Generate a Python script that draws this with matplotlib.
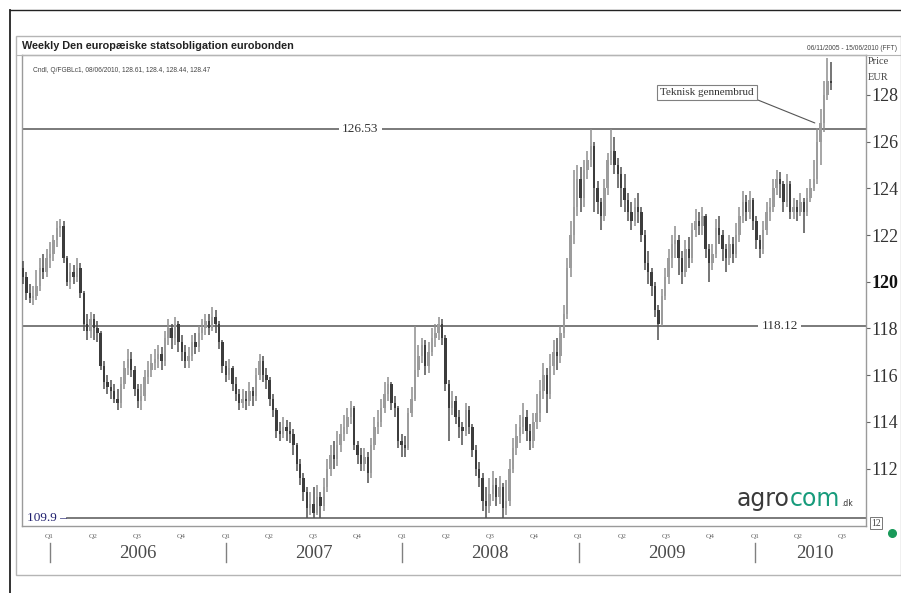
import numpy as np
import pandas as pd
import matplotlib
matplotlib.use('Agg')
import matplotlib.pyplot as plt
import matplotlib.dates as mdates
from matplotlib.lines import Line2D
from matplotlib.patches import Rectangle

# weekly candles, 06/11/2005 - 15/06/2010
opens = [
    120.6, 120.2, 119.5, 119.3, 119.4, 119.8, 120.6, 120.4,
    # 2006
    121.0, 121.2, 121.8, 122.3, 122.4, 121.0, 120.0, 120.4, 120.2, 120.6, 119.5, 118.2, 117.9, 118.4,
    118.0, 117.8, 116.4, 115.7, 115.5, 115.3, 115.0, 114.8, 115.6, 116.3, 116.7, 116.2, 115.4, 114.9,
    115.1, 115.9, 116.2, 116.5, 116.7, 116.9, 116.6, 117.6, 118.0, 117.6, 118.2, 117.4, 117.0, 116.6,
    116.8, 117.4, 117.2, 117.8, 118.0, 118.3, 118.0, 118.5, 118.2, 117.4, 116.4,
    # 2007
    116.0, 116.3, 115.6, 115.2, 114.8, 115.0, 114.9, 115.3, 115.1, 116.0, 116.6, 116.0, 115.8, 115.0,
    114.5, 113.6, 113.5, 113.8, 113.6, 113.5, 113.0, 112.2, 111.6, 111.0, 110.3, 110.5, 110.1, 110.8,
    110.4, 111.2, 112.0, 112.6, 112.4, 113.0, 113.5, 113.8, 114.2, 114.6, 113.0, 112.6, 112.2, 112.5,
    111.8, 113.0, 113.8, 114.0, 114.6, 115.2, 115.6, 114.8, 114.6, 113.2,
    # 2008
    113.0, 112.9, 114.4, 115.0, 116.2, 116.8, 117.3, 116.4, 117.0, 117.6, 117.8, 118.2, 117.6, 115.6,
    114.6, 114.9, 114.2, 113.8, 113.6, 114.5, 113.8, 112.8, 112.0, 111.6, 110.6, 110.4, 110.9, 111.3,
    110.8, 111.2, 110.3, 110.6, 112.0, 112.9, 113.4, 113.8, 114.2, 113.6, 113.2, 114.0, 114.4, 115.3,
    116.0, 115.2, 116.4, 117.0, 116.8, 117.8, 118.6, 120.6, 122.0, 123.2,
    # 2009
    124.4, 123.6, 124.8, 125.2, 125.8, 124.0, 123.4, 122.8, 124.0, 125.2, 125.6, 125.0, 124.6, 124.0,
    123.5, 123.0, 122.6, 123.2, 123.0, 122.0, 120.8, 120.4, 119.8, 118.8, 118.2, 119.4, 120.2, 121.0,
    121.6, 121.8, 121.0, 120.4, 121.4, 121.0, 122.2, 122.6, 122.4, 122.8, 121.4, 120.8, 121.2, 122.3,
    122.0, 121.4, 121.0, 121.6, 121.2, 122.0, 122.8, 123.4, 123.0, 123.5,
    # 2010
    122.6, 121.8, 121.4, 122.2, 123.0, 123.2, 124.0, 124.4, 124.2, 123.4, 124.2, 123.0, 123.2, 123.0,
    123.4, 123.0, 123.6, 124.0, 124.4, 126.0, 126.8, 128.0, 128.6,
]
highs = [
    120.9, 120.4, 119.9, 119.8, 120.5, 121.0, 121.2, 121.4,
    121.7, 122.0, 122.6, 122.7, 122.6, 121.1, 120.8, 120.7, 121.0, 120.8, 119.6, 118.6, 118.7, 118.6,
    118.3, 117.9, 116.6, 116.0, 115.8, 115.6, 115.4, 115.9, 116.6, 117.1, 117.0, 116.4, 115.6, 115.6,
    116.2, 116.6, 116.9, 117.1, 117.3, 117.2, 117.9, 118.4, 118.2, 118.5, 118.3, 117.7, 117.3, 117.2,
    117.7, 117.8, 118.1, 118.4, 118.6, 118.6, 118.9, 118.8, 118.3, 117.5, 116.6,
    116.7, 116.4, 115.9, 115.4, 115.4, 115.3, 115.7, 115.5, 116.3, 116.9, 116.8, 116.3, 115.9, 115.2,
    114.6, 114.0, 114.2, 114.1, 114.0, 113.7, 113.1, 112.4, 111.8, 111.2, 111.0, 111.2, 111.3, 111.0,
    111.6, 112.4, 113.0, 113.2, 113.6, 113.9, 114.3, 114.6, 114.9, 114.7, 113.2, 112.9, 112.9, 112.7,
    113.3, 114.2, 114.5, 115.0, 115.7, 115.9, 115.7, 115.1, 114.7, 113.5,
    113.4, 114.6, 115.5, 118.1, 117.3, 117.6, 117.5, 117.4, 118.0, 118.2, 118.5, 118.4, 117.7, 115.8,
    115.3, 115.1, 114.5, 114.0, 114.8, 114.7, 113.9, 113.0, 112.3, 111.8, 111.2, 111.6, 111.9, 111.6,
    111.7, 111.4, 111.5, 112.4, 113.3, 113.9, 114.3, 114.8, 114.5, 113.9, 114.4, 115.2, 115.8, 116.5,
    116.3, 116.9, 117.5, 117.6, 118.1, 119.0, 121.0, 122.6, 124.8, 125.0,
    124.9, 125.2, 125.6, 126.53, 126.0, 124.3, 123.6, 124.4, 125.5, 126.53, 126.2, 125.3, 124.9, 124.6,
    123.8, 123.4, 123.6, 123.8, 123.2, 122.2, 121.3, 120.6, 120.0, 119.0, 119.7, 120.6, 121.4, 122.0,
    122.4, 122.0, 121.3, 121.8, 121.9, 122.5, 123.1, 123.0, 123.2, 122.9, 121.6, 121.6, 122.7, 122.8,
    122.2, 121.6, 122.0, 121.9, 122.5, 123.2, 123.9, 123.7, 123.9, 123.6,
    122.8, 122.0, 122.6, 123.4, 123.6, 124.4, 124.8, 124.7, 124.3, 124.6, 124.3, 123.6, 123.5, 123.8,
    123.6, 124.0, 124.4, 125.2, 126.6, 127.4, 128.6, 129.6, 129.4,
]
lows = [
    119.9, 119.2, 119.1, 119.0, 119.2, 119.6, 120.1, 120.2,
    120.6, 120.9, 121.5, 121.9, 120.8, 119.8, 119.7, 119.9, 120.0, 119.3, 117.9, 117.5, 117.6, 117.5,
    117.4, 116.2, 115.4, 115.2, 115.0, 114.8, 114.5, 114.6, 115.4, 116.0, 115.9, 115.1, 114.6, 114.5,
    114.9, 115.6, 115.9, 116.2, 116.3, 116.2, 116.4, 117.3, 117.1, 117.3, 117.0, 116.6, 116.3, 116.3,
    116.6, 116.9, 117.0, 117.5, 117.7, 117.7, 117.9, 117.8, 117.1, 116.1, 115.7,
    115.8, 115.3, 114.9, 114.5, 114.6, 114.5, 114.7, 114.7, 114.9, 115.8, 115.7, 115.4, 114.7, 114.2,
    113.3, 113.2, 113.3, 113.2, 113.1, 112.6, 111.9, 111.3, 110.6, 109.9, 110.0, 109.9, 110.0, 109.9,
    110.2, 111.0, 111.7, 112.0, 112.1, 112.7, 113.2, 113.5, 113.9, 112.8, 112.2, 111.9, 111.9, 111.4,
    111.6, 112.8, 113.5, 113.8, 114.4, 114.9, 114.5, 114.2, 112.9, 112.5,
    112.5, 112.8, 114.2, 114.9, 115.9, 116.5, 116.0, 116.1, 116.8, 117.2, 117.5, 117.3, 115.3, 113.2,
    114.3, 113.9, 113.3, 113.0, 113.4, 113.5, 112.5, 111.7, 111.2, 110.2, 109.9, 110.1, 110.6, 110.4,
    110.5, 109.9, 110.0, 110.4, 111.8, 112.6, 113.1, 113.5, 113.2, 112.8, 112.9, 113.7, 114.0, 115.0,
    114.4, 115.0, 116.0, 116.2, 116.5, 117.6, 118.4, 120.2, 121.6, 122.8,
    123.0, 123.2, 124.4, 124.9, 123.0, 122.9, 122.2, 122.6, 123.7, 125.0, 124.6, 124.0, 123.2, 123.0,
    122.6, 122.2, 122.4, 122.5, 121.7, 120.5, 119.9, 119.4, 118.5, 117.5, 118.1, 119.2, 119.9, 120.6,
    121.0, 120.3, 119.9, 120.2, 120.6, 120.8, 121.9, 122.0, 122.0, 121.0, 120.0, 120.5, 121.0, 121.6,
    120.9, 120.4, 120.7, 120.8, 121.0, 121.7, 122.5, 122.6, 122.7, 122.2,
    121.4, 121.0, 121.2, 122.0, 122.6, 123.0, 123.7, 123.6, 123.0, 123.2, 122.7, 122.7, 122.6, 122.8,
    122.1, 122.8, 123.4, 123.9, 124.2, 125.0, 126.4, 127.8, 128.2,
]
closes = [
    120.2, 119.5, 119.3, 119.4, 119.8, 120.6, 120.4, 121.0,
    121.2, 121.8, 122.3, 122.4, 121.0, 120.0, 120.4, 120.2, 120.6, 119.5, 118.2, 117.9, 118.4, 118.0,
    117.8, 116.4, 115.7, 115.5, 115.3, 115.0, 114.8, 115.6, 116.3, 116.7, 116.2, 115.4, 114.9, 115.1,
    115.9, 116.2, 116.5, 116.7, 116.9, 116.6, 117.6, 118.0, 117.6, 118.2, 117.4, 117.0, 116.6, 116.8,
    117.4, 117.2, 117.8, 118.0, 118.3, 118.0, 118.5, 118.2, 117.4, 116.4, 116.0,
    116.3, 115.6, 115.2, 114.8, 115.0, 114.9, 115.3, 115.1, 116.0, 116.6, 116.0, 115.8, 115.0, 114.5,
    113.6, 113.5, 113.8, 113.6, 113.5, 113.0, 112.2, 111.6, 111.0, 110.3, 110.5, 110.1, 110.8, 110.4,
    111.2, 112.0, 112.6, 112.4, 113.0, 113.5, 113.8, 114.2, 114.6, 113.0, 112.6, 112.2, 112.5, 111.8,
    113.0, 113.8, 114.0, 114.6, 115.2, 115.6, 114.8, 114.6, 113.2, 113.0,
    112.9, 114.4, 115.0, 116.2, 116.8, 117.3, 116.4, 117.0, 117.6, 117.8, 118.2, 117.6, 115.6, 114.6,
    114.9, 114.2, 113.8, 113.6, 114.5, 113.8, 112.8, 112.0, 111.6, 110.6, 110.4, 110.9, 111.3, 110.8,
    111.2, 110.3, 110.6, 112.0, 112.9, 113.4, 113.8, 114.2, 113.6, 113.2, 114.0, 114.4, 115.3, 116.0,
    115.2, 116.4, 117.0, 116.8, 117.8, 118.6, 120.6, 122.0, 123.2, 124.4,
    123.6, 124.8, 125.2, 125.8, 124.0, 123.4, 122.8, 124.0, 125.2, 125.6, 125.0, 124.6, 124.0, 123.5,
    123.0, 122.6, 123.2, 123.0, 122.0, 120.8, 120.4, 119.8, 118.8, 118.2, 119.4, 120.2, 121.0, 121.6,
    121.8, 121.0, 120.4, 121.4, 121.0, 122.2, 122.6, 122.4, 122.8, 121.4, 120.8, 121.2, 122.3, 122.0,
    121.4, 121.0, 121.6, 121.2, 122.0, 122.8, 123.4, 123.0, 123.5, 122.6,
    121.8, 121.4, 122.2, 123.0, 123.2, 124.0, 124.4, 124.2, 123.4, 124.2, 123.0, 123.2, 123.0, 123.4,
    123.0, 123.6, 124.0, 124.4, 126.0, 126.8, 128.0, 128.6, 128.5,
]

levels = [126.53, 118.12]
low_level = 109.9
years = [2006, 2007, 2008, 2009, 2010]
y_ticks = [112, 114, 116, 118, 120, 122, 124, 126, 128]

W, H = 901, 593


def fx(x):
    return x / W


def fy(y):
    return 1 - y / H


serif = 'Liberation Serif'
sans = 'Liberation Sans'

o = np.array(opens)
hi = np.array(highs)
lo = np.array(lows)
c = np.array(closes)
dates = pd.date_range('2005-11-07', periods=len(c), freq='7D')
xs = mdates.date2num(dates)

fig = plt.figure(figsize=(W / 100, H / 100), dpi=100)
fig.patch.set_facecolor('white')
ax = fig.add_axes([fx(22), fy(526), fx(866) - fx(22), fy(55) - fy(526)])

# candles
up = c >= o
wick_cols = np.where(up, '#8e8e8e', '#505050')
body_cols = np.where(up, '#9c9c9c', '#3c3c3c')
ax.vlines(xs, lo, hi, colors=wick_cols, lw=1.1, zorder=3)
ax.bar(xs, np.maximum(np.abs(c - o), 0.1), bottom=np.minimum(o, c), width=5.0,
       color=body_cols, linewidth=0, zorder=4)

ax.set_xlim(xs[0] - 2, xs[0] + 1746)
ax.set_ylim(109.54, 129.71)

# support / resistance lines
line_col = '#707070'
for lev, xpos in zip(levels, [0.4005, 0.898]):
    ax.axhline(lev, color=line_col, lw=1.3, zorder=2)
    ax.text(xpos, lev, f'{lev:.2f}', transform=ax.get_yaxis_transform(), ha='center',
            va='center', fontsize=9.5, family=serif, color='#333333', zorder=5,
            bbox=dict(boxstyle='square,pad=0.25', fc='white', ec='none'))
ax.plot([0.053, 1], [low_level, low_level], transform=ax.get_yaxis_transform(),
        color=line_col, lw=1.3, zorder=2)
ax.text(0.006, low_level, f'{low_level} \u2013', transform=ax.get_yaxis_transform(),
        ha='left', va='center', fontsize=9.5, family=serif, color='#1f1f6e')

ax.annotate('Teknisk gennembrud', xy=(xs[234] + 2, 126.8), xytext=(xs[202] + 2, 128.1),
            ha='center', va='center', fontsize=8, family=serif, color='#333333',
            bbox=dict(boxstyle='square,pad=0.3', fc='white', ec='#808080', lw=0.8),
            arrowprops=dict(arrowstyle='-', color='#555555', lw=0.8, shrinkA=0, shrinkB=0,
                            relpos=(0.97, 0.0)))

# axes styling
for sp in ax.spines.values():
    sp.set_color('#9a9a9a')
    sp.set_linewidth(1.0)
ax.yaxis.tick_right()
ax.set_yticks(y_ticks)
ax.set_yticklabels([str(t) for t in y_ticks])
ax.tick_params(axis='y', length=3, width=0.8, color='#666666', pad=1, labelsize=13,
               labelcolor='#333333')
for lab in ax.get_yticklabels():
    lab.set_family(serif)
    if lab.get_text() == '120':
        lab.set_fontweight('bold')
        lab.set_color('#111111')

quarters = pd.date_range('2006-01-01', '2010-07-01', freq='QS')
ax.set_xticks(mdates.date2num(quarters))
ax.set_xticklabels([f'Q{q.quarter}' for q in quarters])
ax.tick_params(axis='x', length=0, pad=6, labelsize=5.3, labelcolor='#666666')
for lab in ax.get_xticklabels():
    lab.set_family(serif)

xt = ax.get_xaxis_transform()
x_end = ax.get_xlim()[1]
for yr in years:
    jan = mdates.date2num(pd.Timestamp(f'{yr}-01-01'))
    ax.plot([jan, jan], [-0.036, -0.077], transform=xt, color='#808080', lw=1, clip_on=False)
    if yr < 2010:
        mid = mdates.date2num(pd.Timestamp(f'{yr}-07-02'))
    else:
        mid = (jan + x_end) / 2 + 10
    ax.text(mid, -0.058, str(yr), transform=xt, ha='center', va='center', fontsize=13.5,
            family=serif, color='#4a4a4a')

# frame and header
fig.add_artist(Line2D([fx(10), fx(10)], [fy(10), 0], color='#222222', lw=1.3))
fig.add_artist(Line2D([fx(10), 1], [fy(10), fy(10)], color='#222222', lw=1.0))
fig.add_artist(Rectangle((fx(16), fy(575)), 1 - fx(16), fy(36) - fy(575),
                         transform=fig.transFigure, fill=False, ec='#b5b5b5', lw=1.0))
fig.add_artist(Line2D([fx(16), 1], [fy(55), fy(55)], color='#b5b5b5', lw=0.8))

fig.text(fx(22), fy(46), 'Weekly Den europæiske statsobligation eurobonden', fontsize=7.8,
         fontweight='bold', family=sans, color='#222222', va='center')
fig.text(fx(897), fy(48), '06/11/2005 - 15/06/2010 (FFT)', fontsize=4.8, family=sans,
         color='#444444', va='center', ha='right')
fig.text(fx(33), fy(71), 'Cndl, Q/FGBLc1, 08/06/2010, 128.61, 128.4, 128.44, 128.47',
         fontsize=4.8, family=sans, color='#444444', va='center')
fig.text(fx(868), fy(61), 'Price', fontsize=7.5, family=serif, color='#444444', va='center')
fig.text(fx(868), fy(78), 'EUR', fontsize=7.5, family=serif, color='#444444', va='center')

# logo
t1 = fig.text(fx(737), fy(506), 'agro', fontsize=17, family='DejaVu Sans', color='#3a3a3a',
              va='baseline')
t2 = ax.annotate('com', xy=(1, 0), xycoords=t1, fontsize=17, family='DejaVu Sans',
                 color='#179b7b', va='bottom', ha='left')
ax.annotate('.dk', xy=(1, 0), xycoords=t2, fontsize=5.5, family='DejaVu Sans',
            color='#333333', va='bottom', ha='left', xytext=(0.5, 2), textcoords='offset points')

fig.text(fx(876), fy(523), '12', fontsize=7, family=serif, color='#444444', ha='center',
         va='center', bbox=dict(boxstyle='square,pad=0.15', fc='white', ec='#777777', lw=0.7))
fig.add_artist(Line2D([fx(892)], [fy(533)], marker='o', markersize=5.5, color='#1a9a5a',
                      transform=fig.transFigure))

fig.savefig('out.png', dpi=100)
